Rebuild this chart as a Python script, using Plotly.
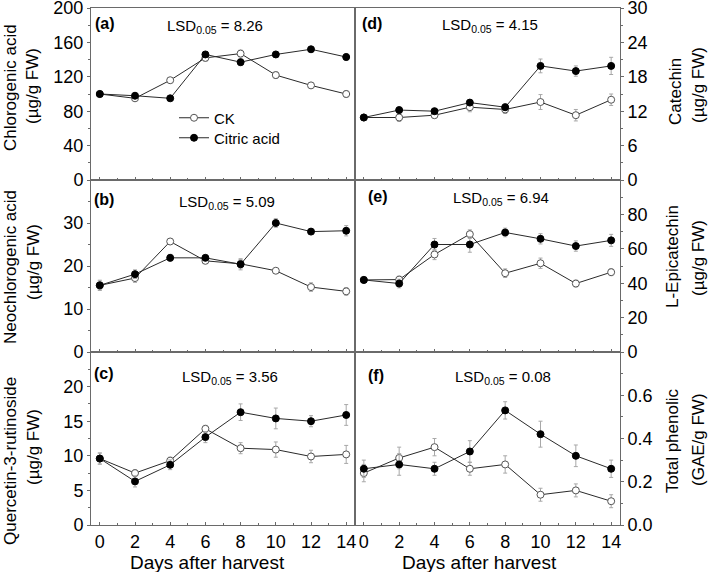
import plotly.graph_objects as go

W, H = 709, 572

days = [0, 2, 4, 6, 8, 10, 12, 14]

# (a) Chlorogenic acid
a_ck = [100, 95, 116, 142, 147, 122, 110, 100]
a_ck_err = [3, 3, 3, 4, 4, 4, 3, 4]
a_ca = [100, 98, 95, 146, 137, 146, 152, 143]
a_ca_err = [3, 3, 2, 3, 4, 3, 3, 4]

# (b) Neochlorogenic acid
b_ck = [15.5, 17.2, 25.7, 21.2, 20.5, 18.9, 15.1, 14.1]
b_ck_err = [1.0, 1.0, 0.7, 0.6, 1.0, 0.5, 1.0, 0.9]
b_ca = [15.5, 18.1, 21.9, 21.9, 20.4, 30.0, 28.0, 28.2]
b_ca_err = [1.2, 1.0, 0.8, 0.6, 1.3, 1.0, 0.6, 1.2]

# (c) Quercetin-3-rutinoside
c_ck = [9.6, 7.5, 9.3, 13.9, 11.1, 10.9, 9.9, 10.2]
c_ck_err = [0.8, 0.5, 0.5, 0.5, 0.8, 1.1, 0.9, 1.3]
c_ca = [9.6, 6.3, 8.7, 12.7, 16.3, 15.4, 15.0, 15.9]
c_ca_err = [0.8, 0.8, 0.7, 0.8, 1.2, 1.5, 0.8, 1.5]

# (d) Catechin
d_ck = [10.9, 10.9, 11.3, 12.7, 12.3, 13.6, 11.3, 14.0]
d_ck_err = [0.3, 0.7, 0.5, 0.8, 0.7, 1.3, 1.0, 1.0]
d_ca = [10.9, 12.2, 12.0, 13.5, 12.7, 19.9, 19.0, 19.9]
d_ca_err = [0.3, 0.5, 0.5, 0.5, 0.6, 1.2, 0.9, 1.5]

# (e) L-Epicatechin
e_ck = [41.9, 42.1, 56.7, 68.5, 45.8, 51.6, 39.8, 46.4]
e_ck_err = [1.0, 2.0, 3.0, 2.5, 2.5, 3.0, 2.0, 2.0]
e_ca = [41.9, 39.8, 62.5, 62.5, 69.5, 65.8, 61.6, 64.9]
e_ca_err = [1.0, 2.5, 3.5, 4.5, 2.5, 3.0, 3.0, 3.5]

# (f) Total phenolic
f_ck = [0.24, 0.31, 0.36, 0.26, 0.28, 0.14, 0.16, 0.11]
f_ck_err = [0.04, 0.05, 0.04, 0.03, 0.04, 0.03, 0.03, 0.03]
f_ca = [0.26, 0.28, 0.26, 0.34, 0.53, 0.42, 0.32, 0.26]
f_ca_err = [0.04, 0.05, 0.03, 0.05, 0.04, 0.06, 0.05, 0.04]

panels = [
    ("a", a_ck, a_ck_err, a_ca, a_ca_err, [0, 200], 40, 20, "LSD<sub>0.05</sub> = 8.26"),
    ("b", b_ck, b_ck_err, b_ca, b_ca_err, [0, 40], 10, 5, "LSD<sub>0.05</sub> = 5.09"),
    ("c", c_ck, c_ck_err, c_ca, c_ca_err, [0, 25], 5, 2.5, "LSD<sub>0.05</sub> = 3.56"),
    ("d", d_ck, d_ck_err, d_ca, d_ca_err, [0, 30], 6, 3, "LSD<sub>0.05</sub> = 4.15"),
    ("e", e_ck, e_ck_err, e_ca, e_ca_err, [0, 100], 20, 10, "LSD<sub>0.05</sub> = 6.94"),
    ("f", f_ck, f_ck_err, f_ca, f_ca_err, [0, 0.8], 0.2, 0.1, "LSD<sub>0.05</sub> = 0.08"),
]

series_names = ["CK", "Citric acid"]
y_titles = [
    ("Chlorogenic acid", "(µg/g FW)"),
    ("Neochlorogenic acid", "(µg/g FW)"),
    ("Quercetin-3-rutinoside", "(µg/g FW)"),
    ("Catechin", "(µg/g FW)"),
    ("L-Epicatechin", "(µg/g FW)"),
    ("Total phenolic", "(GAE/g FW)"),
]
x_title = "Days after harvest"

FONT = "Arial, 'Liberation Sans', sans-serif"
FRAME = "#6a6a6a"
LINE = "#2a2a2a"
ERR = "#a8a8a8"


def px(x):
    return x / W


def py(y):
    return 1 - y / H


# layout geometry (pixels)
col_x = [(91, 355), (355, 620)]
row_y = [(8, 180), (180, 352), (352, 525)]

fig = go.Figure()
layout = {}
annotations = []

for i, (lab, ck, ckerr, ca, caerr, yr, dt, mdt, lsd) in enumerate(panels):
    col = i // 3
    row = i % 3
    n = i + 1
    xa = "x" if n == 1 else f"x{n}"
    ya = "y" if n == 1 else f"y{n}"
    xkey = "xaxis" if n == 1 else f"xaxis{n}"
    ykey = "yaxis" if n == 1 else f"yaxis{n}"

    for j, (vals, errs) in enumerate([(ck, ckerr), (ca, caerr)]):
        filled = j == 1
        fig.add_trace(go.Scatter(
            x=days, y=vals, xaxis=xa, yaxis=ya,
            mode="lines+markers",
            name=series_names[j],
            showlegend=(i == 0),
            legend="legend" if j == 0 else "legend2",
            line=dict(color=LINE, width=1),
            marker=dict(
                symbol="circle", size=7,
                color="black" if filled else "white",
                line=dict(color="black" if filled else "#555555", width=1),
            ),
            error_y=dict(type="data", array=errs, color=ERR, thickness=1, width=2),
        ))

    x0, x1 = col_x[col]
    y0, y1 = row_y[row]
    bottom = row == 2
    layout[xkey] = dict(
        domain=[px(x0), px(x1)], anchor=ya, range=[-0.5, 14.5],
        tickmode="array", tickvals=days,
        showticklabels=bottom, automargin=False,
        ticks="inside", ticklen=3, tickcolor=FRAME,
        minor=dict(tickvals=[1, 3, 5, 7, 9, 11, 13], ticks="inside", ticklen=2, tickcolor=FRAME),
        showline=True, linecolor=FRAME, linewidth=1, mirror=True,
        showgrid=False, zeroline=False,
        ticklabeloverflow="allow",
        tickfont=dict(family=FONT, size=18, color="black"),
    )
    ntick = int(round((yr[1] - yr[0]) / dt))
    top_excluded = row != 0
    tvals = [round(k * dt, 4) for k in range(ntick + (0 if top_excluded else 1))]
    mvals = [round(mdt + k * dt, 4) for k in range(ntick)]
    layout[ykey] = dict(
        domain=[py(y1), py(y0)], anchor=xa, range=yr,
        side="right" if col == 1 else "left", automargin=False,
        tickmode="array", tickvals=tvals,
        ticktext=[("%g" % v) if not (lab == "f") else ("%.1f" % v) for v in tvals],
        ticks="outside", ticklen=3, tickcolor=FRAME,
        minor=dict(tickvals=mvals, ticks="outside", ticklen=2, tickcolor=FRAME),
        showline=True, linecolor=FRAME, linewidth=1, mirror=True,
        showgrid=False, zeroline=False,
        ticklabeloverflow="allow",
        tickfont=dict(family=FONT, size=18, color="black"),
    )

    # panel letter
    lab_pos = [(93, 23), (92, 200), (92, 373), (360, 23), (366, 196), (366, 375)][i]
    annotations.append(dict(
        text=f"<b>({lab})</b>", x=px(lab_pos[0]), y=py(lab_pos[1]),
        xref="paper", yref="paper", xanchor="left", yanchor="middle",
        showarrow=False, font=dict(family=FONT, size=16, color="black"),
    ))
    lsd_pos = [(215, 27), (227, 202), (230, 377), (490, 25), (501, 198), (503, 377)][i]
    annotations.append(dict(
        text=lsd, x=px(lsd_pos[0]), y=py(lsd_pos[1]),
        xref="paper", yref="paper", xanchor="center", yanchor="middle",
        showarrow=False, font=dict(family=FONT, size=15, color="black"),
    ))

    # y titles (two lines)
    t1, t2 = y_titles[i]
    pos = [
        ((10, 88), (33, 86)),
        ((10, 267), (33, 262)),
        ((10, 461), (33, 447)),
        ((675, 92), (699, 85)),
        ((672, 257), (698, 258)),
        ((672, 441), (698, 440)),
    ][i]
    for txt, (tx, ty) in zip((t1, t2), pos):
        annotations.append(dict(
            text=txt, x=px(tx), y=py(ty), textangle=-90,
            xref="paper", yref="paper", xanchor="center", yanchor="middle",
            showarrow=False, font=dict(family=FONT, size=17, color="black"),
        ))

for cx in (207, 480):
    annotations.append(dict(
        text=x_title, x=px(cx), y=py(562),
        xref="paper", yref="paper", xanchor="center", yanchor="middle",
        showarrow=False, font=dict(family=FONT, size=19, color="black"),
    ))

leg_common = dict(
    xanchor="left", yanchor="middle",
    bgcolor="rgba(0,0,0,0)", borderwidth=0,
    font=dict(family=FONT, size=15, color="black"),
    tracegroupgap=0, itemwidth=30,
)

fig.update_layout(
    width=W, height=H,
    margin=dict(l=0, r=0, t=0, b=0),
    paper_bgcolor="white", plot_bgcolor="white",
    showlegend=True,
    legend=dict(x=px(174), y=py(118), **leg_common),
    legend2=dict(x=px(174), y=py(138), **leg_common),
    annotations=annotations,
    **layout,
)

fig.write_html(
    "out.html",
    config={"displayModeBar": False},
    post_script="document.body.style.margin='0';document.body.style.overflow='hidden';",
)
